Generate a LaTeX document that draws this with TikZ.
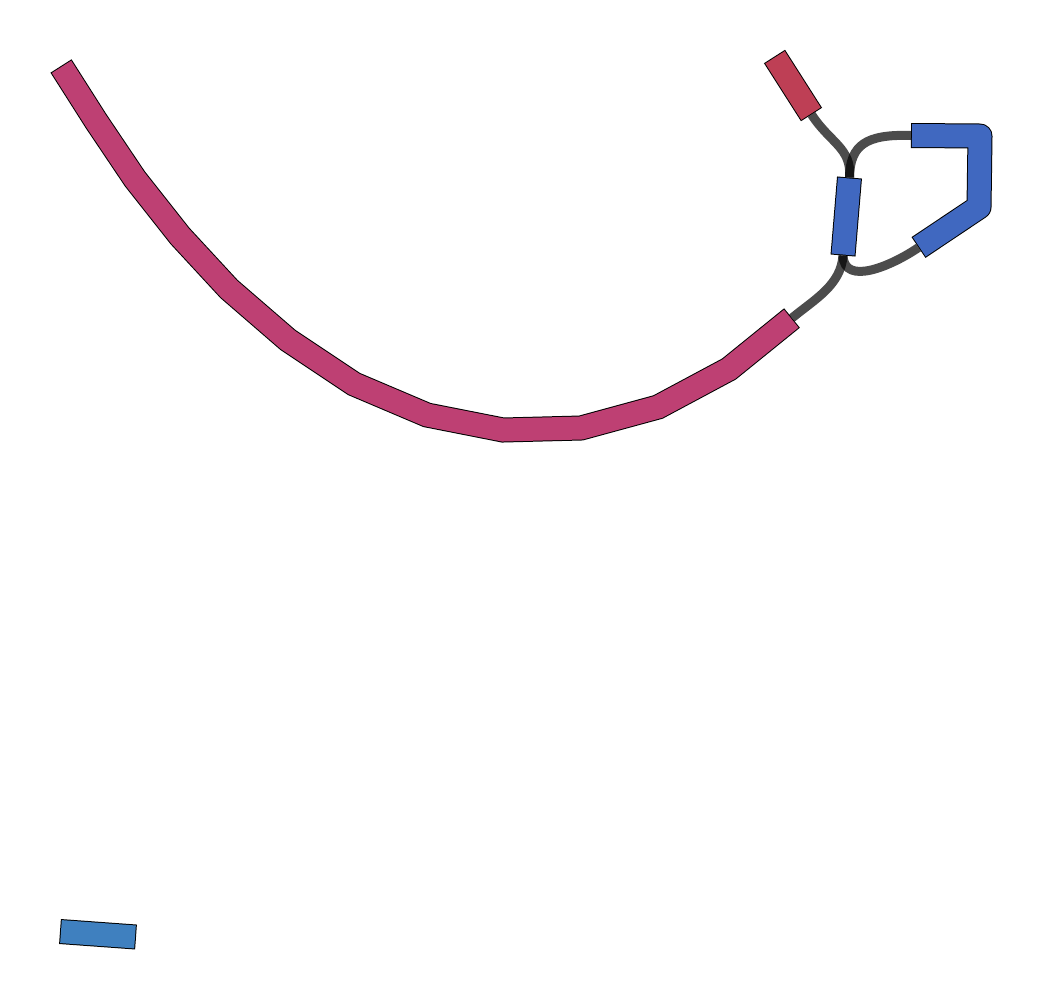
\documentclass[tikz,border=0pt]{standalone}
\definecolor{magseg}{HTML}{BE4073}
\definecolor{redseg}{HTML}{BE3F55}
\definecolor{blueseg}{HTML}{4068C0}
\definecolor{lblueseg}{HTML}{3F80BF}
\tikzset{
  segout/.style={draw=black,line width=18.75pt,line cap=butt,line join=miter},
  segin/.style={line width=17.25pt,line cap=butt,line join=miter,shorten <=0.75pt,shorten >=0.75pt},
  segoutr/.style={segout,line join=round},
  seginr/.style={segin,line join=round},
  edgeline/.style={draw=black,opacity=0.7,line width=6.75pt,line cap=butt}
}
\begin{document}
\begin{tikzpicture}[x=0.75pt,y=-0.75pt]
\useasboundingbox (0,0) rectangle (1044,1000);
% segment end points
\coordinate (magA) at (61,66);
\coordinate (magB) at (792,318);
\coordinate (redA) at (774.5,56.5);
\coordinate (redB) at (811.5,114.5);
\coordinate (vtop) at (849.5,177.5);
\coordinate (vbot) at (843,255.5);
\coordinate (uA) at (911,135.5);
\coordinate (uB) at (918.5,247.5);
\coordinate (lbA) at (60,931.5);
\coordinate (lbB) at (136,937);
% edges
\draw[edgeline] (redB) .. controls (830,143) and (852,148) .. (vtop);
\draw[edgeline] (uA) .. controls (866,134) and (850,145) .. (vtop);
\draw[edgeline] (vbot) .. controls (841,285) and (815,299) .. (magB);
\draw[edgeline] (vbot) .. controls (844,287) and (893,265) .. (uB);
% segments
\def\magpath{(magA) -- (96,121) -- (135,179) -- (180,236) -- (229,289) -- (288,340) -- (354,384) -- (427,415) -- (503,430) -- (581,428) -- (658,407) -- (729,369) -- (magB)}
\draw[segout] \magpath;
\draw[segin,draw=magseg] \magpath;
\draw[segout] (redA) -- (redB);
\draw[segin,draw=redseg] (redA) -- (redB);
\draw[segout] (vtop) -- (vbot);
\draw[segin,draw=blueseg] (vtop) -- (vbot);
\def\upath{(uA) -- (980,136) -- (979,207) -- (uB)}
\draw[segoutr] \upath;
\draw[seginr,draw=blueseg] \upath;
\draw[segout] (lbA) -- (lbB);
\draw[segin,draw=lblueseg] (lbA) -- (lbB);
\end{tikzpicture}
\end{document}
